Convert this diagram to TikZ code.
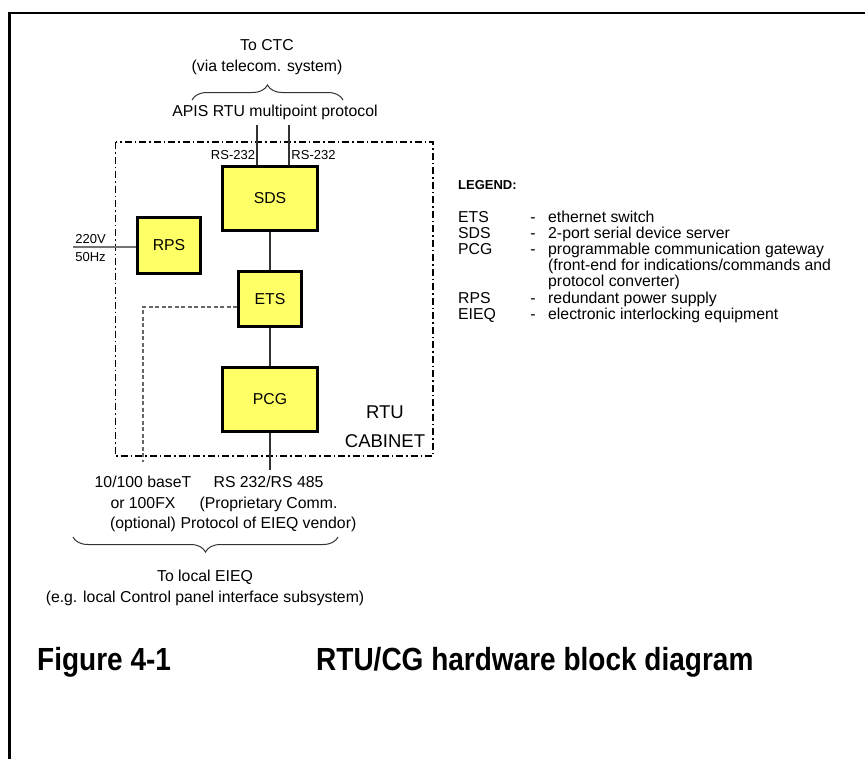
\documentclass[tikz,border=0pt]{standalone}
\usepackage{fontspec}
\setmainfont{Liberation Sans}
\newfontfamily\ttlfont[FakeStretch=0.875]{Liberation Sans Bold}
\usetikzlibrary{decorations.pathreplacing}
\definecolor{boxyellow}{RGB}{255,255,102}
\begin{document}
\begin{tikzpicture}[x=1pt,y=-1pt,
  blk/.style={draw=black,line width=2.2pt,fill=boxyellow,inner sep=0pt,
    font=\fontsize{15.8}{19}\selectfont},
  txt/.style={inner sep=0pt,font=\fontsize{15.8}{20.5}\selectfont,align=center},
  sml/.style={inner sep=0pt,font=\fontsize{13}{16}\selectfont},
  big/.style={inner sep=0pt,font=\fontsize{18.5}{22}\selectfont},
  leg/.style={inner sep=0pt,anchor=west,text height=11.4pt,text depth=3.3pt,
    font=\fontsize{15.8}{19}\selectfont},
  ttl/.style={inner sep=0pt,anchor=west,font=\fontsize{32}{36}\ttlfont},
  wire/.style={line width=1.5pt,draw=black!80},
  pwire/.style={line width=1.6pt,draw=black!55},
  dwire/.style={line width=1.2pt,draw=black!60,dash pattern=on 4pt off 2.5pt},
  cab/.style={line width=1.1pt,draw=black,dash pattern=on 7pt off 3pt on 1.5pt off 3pt},
  brc/.style={line width=1pt,draw=black!80,decorate,decoration={brace,amplitude=15pt}},
  frm/.style={line width=2.6pt,draw=black}]
\useasboundingbox (0,0) rectangle (865,758);
\fill[white] (0,0) rectangle (865,758);
% frame
\draw[frm] (870,13) -- (9.5,13) -- (9.5,765);
% cabinet
\draw[cab] (115.5,142) rectangle (433,456);
% boxes
\node[blk,minimum width=95pt,minimum height=64pt] (sds) at (270,198.5) {SDS};
\node[blk,minimum width=63pt,minimum height=56pt] (rps) at (169,245.5) {RPS};
\node[blk,minimum width=63pt,minimum height=55pt] (ets) at (270,299) {ETS};
\node[blk,minimum width=95pt,minimum height=64pt] (pcg) at (270,399.5) {PCG};
% free ends
\coordinate (s1) at (257,125);
\coordinate (s2) at (289,125);
\coordinate (pin) at (73,246.7);
\coordinate (pout) at (270,470);
\coordinate (dcorner) at (143,307);
\coordinate (dend) at (143,462);
% connectors
\draw[wire] (sds.north -| s1) -- (s1);
\draw[wire] (sds.north -| s2) -- (s2);
\draw[wire] (sds.south) -- (ets.north);
\draw[wire] (ets.south) -- (pcg.north);
\draw[wire] (pcg.south) -- (pout);
\draw[pwire] (rps.west |- pin) -- (pin);
\draw[dwire] (ets.west |- dcorner) -- (dcorner) -- (dend);
% labels
\node[sml] (rs1) at (233,155) {RS-232};
\node[sml] (rs2) at (313.5,155) {RS-232};
\node[sml] (v220) at (90.5,239) {220V};
\node[sml] (hz50) at (90.5,257) {50Hz};
\node[big] (rtu) at (385,412) {RTU};
\node[big] (cabinet) at (385,441) {CABINET};
% top texts
\node[txt] (ctc) at (267,57) {To CTC\\(via telecom. system)};
\coordinate (tb1) at (192,100);
\coordinate (tb2) at (343,100);
\draw[brc] (tb1) -- (tb2);
\node[txt] (apis) at (275,112) {APIS RTU multipoint protocol};
% bottom texts
\node[txt] (eth) at (143,504) {10/100 baseT\\or 100FX\\(optional)};
\node[txt] (rs485) at (268.5,504) {RS 232/RS 485\\(Proprietary Comm.\\Protocol of EIEQ vendor)};
\coordinate (bb1) at (338,537);
\coordinate (bb2) at (73,537);
\draw[brc] (bb1) -- (bb2);
\node[txt] (local) at (205,588) {To local EIEQ\\(e.g. local Control panel interface subsystem)};
% legend
\node[inner sep=0pt,anchor=west,font=\fontsize{13}{16}\selectfont\bfseries] (legend) at (458,185) {LEGEND:};
\foreach \a/\d/\i in {ETS/ethernet switch/0,
  SDS/2-port serial device server/1,
  PCG/programmable communication gateway/2,
  {}/(front-end for indications\slash commands and/3,
  {}/protocol converter)/4,
  RPS/redundant power supply/5,
  EIEQ/electronic interlocking equipment/6}{
  \node[leg] (la\i) at (458,218+16.2*\i) {\a};
  \node[leg] (ld\i) at (548,218+16.2*\i) {\d};
}
\foreach \i in {0,1,2,5,6}{
  \node[leg,anchor=center] (lm\i) at (533,218+16.2*\i) {-};
}
% title
\node[ttl] (fig) at (37,662) {Figure 4-1};
\node[ttl] (cap) at (316,662) {RTU/CG hardware block diagram};
\end{tikzpicture}
\end{document}
